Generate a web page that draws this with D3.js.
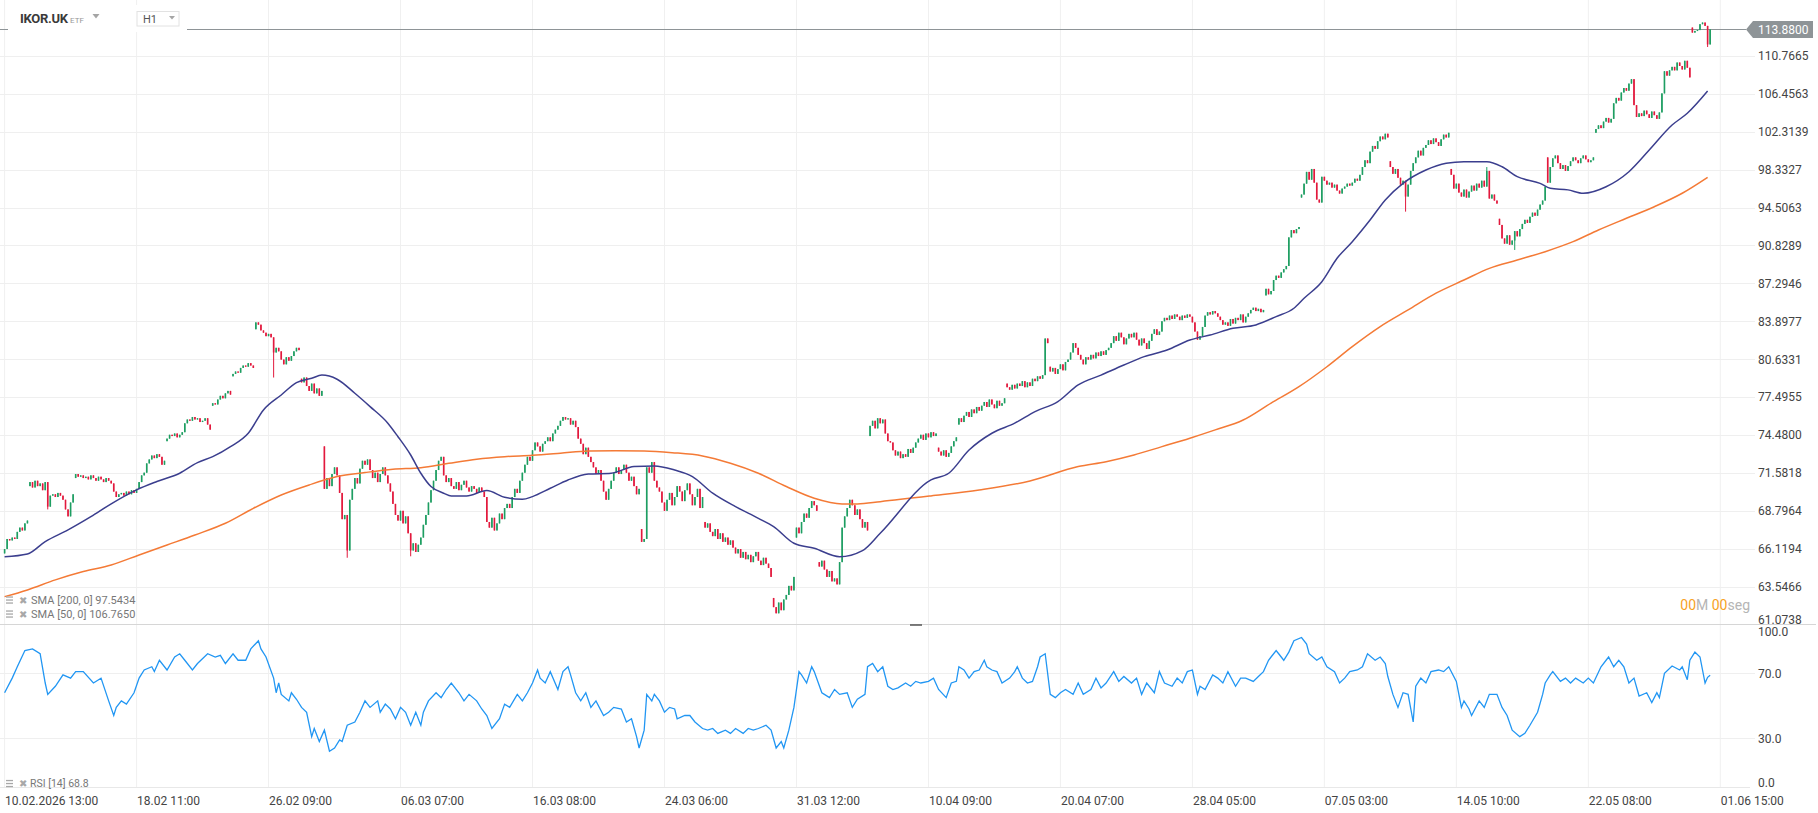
<!DOCTYPE html>
<html>
<head>
<meta charset="utf-8">
<script src="https://cdn.jsdelivr.net/npm/d3@7"></script>
<style>
  body { margin: 0; background: #fff; }
  svg { display: block; font-family: Roboto, "Noto Sans", sans-serif; }
</style>
</head>
<body>
<div id="chart"></div>
<script>
// hourly closes, one entry per bar (bar 0 = 10.02.2026 13:00)
const closes = [
  66.1, 66.8, 66.7, 66.9, 66.8, 67.3, 67.6, 67.4, 67.9, 68.1,
  70.9, 70.5, 71.0, 70.6, 70.8, 70.3, 70.9, 69.1, 69.9, 70.0, 69.8, 70.1, 69.9, 69.6, 68.9, 68.4, 69.4, 70.0,
  71.5, 71.3, 71.4, 71.2, 71.3, 71.1, 71.4, 71.2, 71.0, 71.3, 71.1, 70.9, 71.2, 71.0, 70.8, 70.2, 69.8, 70.0, 70.1, 69.9, 70.2, 70.0, 70.3, 70.1, 70.4, 70.9, 71.4, 71.6,
  72.3, 72.6, 72.9, 72.7, 73.0, 72.8, 72.2, 72.5, 74.2, 74.5, 74.4, 74.6, 74.3, 74.5, 74.7, 75.4, 75.7, 75.6, 75.9, 75.7, 75.8, 75.5, 75.6, 75.8, 75.3, 74.9,
  77.0, 76.9, 77.3, 77.6, 77.4, 77.8, 78.0, 77.7, 79.4, 79.6, 79.5, 79.9, 80.1, 80.0, 80.3, 80.1, 79.9, 83.8, 83.6, 83.1, 82.9, 82.6, 82.8, 82.5, 81.2, 81.6, 81.3, 80.6, 80.2, 80.8, 80.5, 80.9, 81.3, 81.6, 81.4,
  78.7, 79.1, 78.4, 78.0, 78.6, 77.8, 78.2, 77.6, 78.0, 70.4, 71.2, 70.6, 71.5, 72.0, 71.4, 70.1, 68.2, 68.5, 66.0, 69.6, 70.4, 71.2, 70.8, 71.9, 72.5, 72.2, 72.6,
  71.8, 71.2, 71.6, 70.9, 71.5, 72.0, 71.4, 70.8, 70.2, 69.3, 68.5, 68.1, 68.8, 67.9, 68.4, 67.2, 66.0, 66.5, 65.9, 66.4, 66.9, 67.8, 68.5, 69.4, 70.3, 71.0, 71.8, 72.5, 72.8,
  71.4, 70.9, 71.2, 70.6, 70.4, 70.9, 70.3, 70.7, 71.0, 70.5, 70.2, 70.6, 70.4, 70.1, 70.5, 70.2, 69.8, 68.0, 67.6, 68.3, 67.4, 67.9, 68.6, 68.2, 69.0, 69.3, 69.0, 69.8, 70.4, 70.1, 71.0, 71.6,
  72.2, 72.8, 72.5, 73.3, 73.9, 73.6, 73.2, 73.8, 74.0, 74.3, 74.0, 74.6, 74.9, 75.2, 75.6, 75.9, 75.7, 75.8, 75.3, 75.6, 75.1, 74.2, 73.8, 73.0, 73.5, 72.8, 72.4, 72.0, 71.5, 71.8, 71.0, 70.2, 69.6,
  70.4, 71.0, 71.6, 72.0, 71.5, 71.8, 72.2, 71.6, 71.0, 71.3, 70.6, 70.0, 70.4, 66.6, 66.8, 72.0, 71.6, 72.4, 71.0, 70.5, 70.2, 69.4, 68.8, 69.6, 70.1, 69.2, 69.8, 70.6, 70.2, 69.5, 70.3, 70.8, 70.0, 69.2, 69.8, 70.4, 69.0, 69.8,
  67.6, 67.9, 67.3, 67.0, 67.5, 66.8, 67.2, 66.6, 66.9, 66.4, 66.7, 66.2, 65.8, 66.1, 65.5, 65.9, 65.4, 65.7, 65.2, 65.6, 65.9, 65.3, 65.0, 65.5, 65.1, 64.8, 64.2, 62.2, 61.8, 62.5, 62.0, 62.7, 63.0, 63.6, 63.3, 64.2,
  67.6, 67.2, 68.0, 68.6, 68.3, 69.0, 69.5, 69.2, 68.8, 64.9, 65.3, 64.7, 64.2, 64.6, 63.9, 64.1, 63.7, 65.2, 67.6, 68.4, 69.0, 69.6, 69.2, 68.5, 68.9, 68.2, 67.6, 68.0, 67.4,
  75.2, 75.6, 75.0, 75.8, 75.4, 75.7, 74.6, 74.0, 73.9, 73.3, 72.9, 73.2, 72.7, 73.0, 72.8, 73.4, 73.1, 73.5, 73.9, 74.2, 74.5, 74.1, 74.6, 74.3, 74.7, 74.4, 74.6, 73.2, 72.9, 73.3, 72.8, 73.1, 73.6, 74.0, 74.3,
  75.8, 75.5, 76.0, 76.3, 75.9, 76.5, 76.2, 76.7, 76.4, 76.8, 77.1, 76.7, 77.3, 76.9, 76.6, 77.2, 76.8, 77.0, 77.4, 78.3, 78.1, 78.5, 78.2, 78.6, 78.4, 78.8, 78.3, 78.7, 78.4, 79.0, 78.8, 79.2, 79.0, 79.3, 82.4, 82.0,
  79.6, 79.9, 79.4, 79.8, 80.2, 79.7, 80.4, 80.6, 81.2, 82.0, 81.6, 81.0, 80.6, 80.2, 80.8, 80.6, 81.0, 80.7, 81.2, 80.9, 81.3, 81.0, 81.4, 81.6, 82.0, 82.6, 82.2, 82.9, 82.5, 81.9, 82.4, 82.8, 82.5, 82.9, 82.3, 81.8, 82.4, 82.0, 81.5, 82.2, 82.8, 83.2, 82.7, 83.0,
  83.9, 84.2, 84.0, 84.4, 84.1, 84.5, 84.3, 84.0, 84.4, 84.2, 84.5, 84.3, 83.8, 83.0, 82.3, 82.6, 83.4, 84.4, 84.7, 84.5, 84.8, 84.6, 84.3, 84.0, 83.6, 83.8, 83.5, 84.1, 83.7, 84.2, 84.0, 84.5, 83.8, 84.3, 84.6, 84.9, 85.1, 84.8, 85.0, 84.7, 84.9,
  86.8, 86.3, 86.6, 87.6, 88.0, 87.8, 88.3, 88.6, 88.9, 91.6, 92.3, 92.0, 92.4, 92.6, 95.8, 96.9, 98.1, 97.3, 98.4, 97.0, 95.3, 95.0, 97.6, 97.2, 96.8, 97.0, 96.5, 96.8, 96.2, 95.9, 96.4, 96.6, 96.9, 96.7, 97.0, 97.4, 97.2,
  97.8, 98.6, 99.3, 99.0, 100.2, 100.8, 100.5, 101.3, 101.8, 101.5, 102.1, 101.7, 98.6, 97.9, 98.4, 97.5, 96.8, 97.2, 95.6, 96.8, 98.2, 99.0, 99.6, 100.3, 99.8, 100.6, 100.9, 101.4, 101.0, 101.6, 101.2, 100.8, 101.5, 102.0, 101.7, 102.2,
  97.8, 96.4, 96.9, 96.0, 95.6, 96.3, 95.5, 96.1, 96.7, 96.2, 96.9, 96.5, 97.2, 96.6, 98.2, 95.4, 95.8, 95.2, 94.9, 92.8, 91.5, 91.0, 91.8, 90.9, 91.3, 92.2, 91.7, 92.4, 92.9, 93.3, 93.0, 93.6, 94.0, 93.7, 94.3, 94.8, 95.2, 96.6, 97.0, 98.6,
  99.5, 99.8, 99.0, 98.4, 98.8, 98.2, 98.7, 99.2, 99.6, 99.3, 99.0, 99.5, 99.8, 99.4, 99.1, 99.3, 99.6, 102.6, 103.0, 102.7, 103.4, 103.8, 103.3, 103.7, 105.4, 106.0, 105.7, 106.6, 107.1, 106.8, 107.6, 108.1, 105.2,
  103.9, 104.3, 104.0, 104.6, 104.2, 103.8, 104.5, 104.1, 103.7, 104.4, 106.5, 109.0, 108.5, 109.1, 109.5, 109.1, 110.0, 109.6, 109.2, 110.2, 109.4, 108.3, 113.5, 113.7, 113.8, 114.5, 114.7, 114.3, 112.1, 113.88
];

// bars that open away from the previous close: [bar, open]
const gapOpens = [
  [0, 65.8], [10, 70.6], [28, 71.2], [64, 74.0], [82, 76.8], [90, 79.2], [99, 83.2],
  [117, 79.0], [126, 73.6], [251, 67.5], [276, 68.0], [303, 62.8], [312, 66.9],
  [321, 65.2], [341, 74.4], [368, 73.5], [376, 75.3], [395, 78.6], [412, 80.0],
  [497, 86.2], [511, 95.5], [546, 99.2], [570, 98.4], [589, 93.4], [608, 99.6],
  [627, 102.2], [665, 114.1]
];

// long wicks: [bar, extreme price]
const spikes = [
  [17, 68.9], [106, 79.1], [135, 65.5], [160, 65.6], [552, 94.1],
  [584, 98.6], [595, 90.4], [671, 111.8]
];

// SMA(50): [bar, value]
const sma50 = [
  [0, 65.57], [9, 65.76], [16, 66.62], [25, 67.44], [34, 68.38], [42, 69.30], [52, 70.32],
  [60, 70.94], [69, 71.56], [76, 72.36], [82, 72.81], [89, 73.58], [96, 74.62], [102, 76.46],
  [109, 77.67], [115, 78.68], [121, 79.04], [125, 79.30], [131, 78.96], [138, 77.81],
  [144, 76.73], [151, 75.41], [155, 74.35], [160, 72.94], [164, 71.56], [168, 70.57],
  [173, 70.08], [176, 69.88], [182, 69.88], [190, 70.27], [197, 69.78], [204, 69.63],
  [208, 69.83], [215, 70.44], [222, 71.06], [230, 71.50], [239, 71.56], [248, 72.06],
  [256, 72.11], [264, 71.80], [271, 71.31], [279, 70.08], [288, 69.10], [297, 68.26],
  [303, 67.67], [311, 66.50], [319, 66.15], [329, 65.57], [338, 65.99], [345, 67.20],
  [365, 71.06], [372, 71.56], [380, 73.32], [389, 74.62], [398, 75.41], [406, 76.33],
  [415, 77.13], [423, 78.49], [432, 79.30], [441, 80.14], [449, 80.85], [458, 81.41],
  [467, 82.27], [475, 82.70], [484, 83.28], [493, 83.58], [501, 84.31], [508, 85.05],
  [512, 85.94], [519, 87.45], [525, 89.62], [531, 91.19], [538, 93.28], [544, 95.26],
  [551, 96.93], [560, 98.29], [568, 98.99], [575, 99.15], [584, 99.15], [590, 98.63],
  [596, 97.61], [605, 96.93], [609, 96.43], [616, 96.27], [622, 95.93], [631, 96.59],
  [640, 98.12], [648, 100.37], [657, 103.03], [663, 104.31], [671, 106.77]
];

// SMA(200): [bar, value]
const sma200 = [
  [0, 62.89], [9, 63.33], [20, 64.00], [31, 64.56], [42, 65.01], [53, 65.69], [64, 66.38],
  [75, 67.08], [87, 67.91], [98, 68.98], [109, 69.95], [120, 70.69], [131, 71.31],
  [142, 71.61], [153, 71.86], [164, 71.98], [175, 72.31], [186, 72.62], [197, 72.81],
  [208, 72.92], [219, 73.08], [230, 73.25], [241, 73.27], [252, 73.25], [263, 73.12],
  [275, 72.87], [286, 72.31], [297, 71.56], [308, 70.57], [319, 69.71], [330, 69.30],
  [336, 69.30], [345, 69.46], [365, 69.88], [384, 70.32], [404, 70.98], [423, 72.06],
  [434, 72.43], [445, 72.94], [456, 73.58], [467, 74.23], [477, 74.88], [488, 75.66],
  [499, 77.01], [510, 78.35], [521, 80.00], [531, 81.70], [542, 83.43], [553, 84.90],
  [564, 86.40], [575, 87.60], [585, 88.68], [596, 89.45], [607, 90.24], [618, 91.19],
  [628, 92.31], [639, 93.45], [650, 94.59], [661, 95.93], [671, 97.54]
];

// RSI(14): [bar, value]
const rsi14 = [
  [0,58],[3,67],[5,74],[8,84],[11,85],[14,82],[16,64],[17,57],[20,62],[23,69],[26,67],[28,71],
  [31,71],[35,64],[38,67],[41,53],[43,44],[44,49],[46,53],[48,51],[51,58],[53,67],[55,72],[58,74],
  [59,71],[61,78],[64,72],[67,80],[69,82],[71,78],[74,72],[76,76],[80,82],[83,80],[85,81],[87,76],
  [90,82],[92,78],[95,78],[97,85],[100,90],[101,85],[103,80],[106,67],[107,58],[108,64],[109,57],
  [112,53],[113,58],[115,54],[117,49],[119,46],[121,31],[122,36],[124,28],[126,35],[128,22],[130,24],
  [132,29],[133,28],[135,38],[138,40],[140,46],[142,53],[144,49],[147,53],[148,46],[150,51],[152,48],
  [154,42],[156,49],[158,46],[160,38],[162,46],[164,38],[165,46],[167,53],[170,58],[172,55],[174,60],
  [176,64],[179,58],[181,53],[183,57],[186,53],[188,48],[190,44],[192,36],[195,42],[197,51],[199,49],
  [202,57],[204,53],[206,58],[208,64],[210,72],[211,67],[213,64],[215,71],[218,60],[220,71],[222,74],
  [223,69],[225,58],[227,53],[229,58],[231,49],[233,53],[236,44],[238,46],[240,49],[243,48],[245,40],
  [247,42],[249,31],[250,24],[252,35],[253,57],[255,53],[256,57],[258,53],[260,46],[262,49],[264,48],
  [265,42],[268,44],[270,44],[272,40],[275,36],[277,35],[279,36],[281,33],[284,35],[286,33],[288,36],
  [291,33],[293,36],[295,35],[297,36],[300,38],[302,35],[304,24],[306,28],[307,24],[309,35],[311,49],
  [313,71],[314,69],[316,64],[318,74],[319,71],[322,58],[323,57],[325,55],[327,60],[329,57],[332,58],
  [334,49],[336,54],[339,57],[340,74],[342,76],[344,71],[346,74],[348,62],[350,60],[352,61],[355,64],
  [357,62],[359,65],[361,64],[364,65],[366,67],[368,60],[371,55],[373,64],[375,65],[376,74],[378,72],
  [380,67],[382,71],[384,72],[386,78],[387,74],[389,72],[391,71],[393,64],[396,67],[398,71],[399,74],
  [401,67],[403,64],[405,65],[407,74],[408,80],[410,82],[412,57],[414,55],[416,58],[418,60],[421,57],
  [423,64],[425,57],[428,60],[430,67],[432,61],[434,64],[437,71],[439,65],[441,68],[444,64],[446,67],
  [448,57],[450,64],[453,58],[455,71],[457,64],[460,62],[462,67],[464,64],[466,71],[468,72],[470,57],
  [471,62],[473,60],[476,69],[478,67],[480,64],[482,71],[485,62],[487,67],[489,67],[492,65],[494,68],
  [496,71],[498,78],[499,80],[501,84],[502,82],[504,78],[506,83],[508,90],[511,92],[513,88],[514,82],
  [517,78],[519,80],[521,74],[524,71],[526,64],[528,67],[530,71],[533,72],[535,74],[537,82],[540,78],
  [542,80],[544,76],[545,68],[547,57],[549,49],[551,58],[553,57],[555,40],[556,62],[558,67],[560,64],
  [562,71],[565,72],[567,71],[569,74],[572,65],[574,49],[575,53],[577,48],[578,44],[581,53],[583,49],
  [585,57],[588,57],[590,49],[592,44],[594,35],[597,31],[599,33],[601,38],[604,46],[606,57],[607,64],
  [609,69],[610,71],[613,65],[615,67],[617,64],[619,67],[622,64],[624,67],[626,64],[629,74],[631,78],
  [632,80],[634,74],[636,78],[638,74],[640,64],[642,67],[644,56],[647,58],[649,52],[651,58],[652,55],
  [654,70],[657,74.5],[660,72],[661,74],[663,66],[664,78],[666,83],[668,80],[670,64],[671,67.5],[672,68.8]
];

const priceTicks = [110.7665, 106.4563, 102.3139, 98.3327, 94.5063, 90.8289, 87.2946, 83.8977,
  80.6331, 77.4955, 74.4800, 71.5818, 68.7964, 66.1194, 63.5466, 61.0738];
const rsiTicks = [100, 70, 30, 0];
const timeLabels = ["10.02.2026 13:00", "18.02 11:00", "26.02 09:00", "06.03 07:00", "16.03 08:00",
  "24.03 06:00", "31.03 12:00", "10.04 09:00", "20.04 07:00", "28.04 05:00", "07.05 03:00",
  "14.05 10:00", "22.05 08:00", "01.06 15:00"];
const lastPrice = 113.88;
const barsPerLabel = 52;

const W = 1818, H = 813;
const svg = d3.select("#chart").append("svg").attr("width", W).attr("height", H);

const x = d3.scaleLinear().domain([0, 676]).range([4.6, 1720.3]);
const y = d3.scaleLog().domain([61.0738, 113.88]).range([624.6, 29.4]);
const yr = d3.scaleLinear().domain([0, 100]).range([787, 624.5]);

const gapMap = new Map(gapOpens);
const spikeMap = new Map(spikes);
const bars = closes.map((c, i) => {
  const o = gapMap.has(i) ? gapMap.get(i) : closes[i - 1];
  let hi = Math.max(o, c), lo = Math.min(o, c);
  if (spikeMap.has(i)) {
    hi = Math.max(hi, spikeMap.get(i));
    lo = Math.min(lo, spikeMap.get(i));
  }
  return { i, o, c, hi, lo };
});

// grid
const grid = svg.append("g");
const timeTicks = timeLabels.map((t, k) => k * barsPerLabel);
grid.selectAll(".vgrid").data(timeTicks).join("line")
  .attr("x1", d => x(d)).attr("x2", d => x(d))
  .attr("y1", 0).attr("y2", 787)
  .attr("stroke", "#f0f0f0");
grid.selectAll(".hgrid").data(priceTicks.slice(0, -1)).join("line")
  .attr("x1", 0).attr("x2", 1755)
  .attr("y1", d => Math.round(y(d)) + 0.5).attr("y2", d => Math.round(y(d)) + 0.5)
  .attr("stroke", "#efefef");
grid.selectAll(".rgrid").data([70, 30]).join("line")
  .attr("x1", 0).attr("x2", 1755)
  .attr("y1", d => Math.round(yr(d)) + 0.5).attr("y2", d => Math.round(yr(d)) + 0.5)
  .attr("stroke", "#efefef");
grid.append("line").attr("x1", 0).attr("x2", 1750).attr("y1", 787.5).attr("y2", 787.5).attr("stroke", "#e8e8e8");
grid.append("line").attr("x1", 0).attr("x2", 1816).attr("y1", 624.5).attr("y2", 624.5).attr("stroke", "#d6d6d6");
grid.append("line").attr("x1", 910).attr("x2", 922).attr("y1", 625).attr("y2", 625).attr("stroke", "#555").attr("stroke-width", 1.5);

// last price line
svg.append("line").attr("x1", 0).attr("x2", 1746)
  .attr("y1", Math.round(y(lastPrice)) + 0.5).attr("y2", Math.round(y(lastPrice)) + 0.5)
  .attr("stroke", "#8e9497");

// candles
const green = "#1e9e62", red = "#e2193d";
const candles = svg.append("g");
candles.selectAll("line").data(bars).join("line")
  .attr("x1", d => x(d.i)).attr("x2", d => x(d.i))
  .attr("y1", d => y(d.hi)).attr("y2", d => y(d.lo))
  .attr("stroke", d => d.c >= d.o ? green : red)
  .attr("stroke-width", 1);
candles.selectAll("rect").data(bars).join("rect")
  .attr("x", d => x(d.i) - 0.8).attr("width", 1.6)
  .attr("y", d => y(Math.max(d.o, d.c)))
  .attr("height", d => Math.max(1, y(Math.min(d.o, d.c)) - y(Math.max(d.o, d.c))))
  .attr("fill", d => d.c >= d.o ? green : red);

// moving averages
const maLine = d3.line().x(d => x(d[0])).y(d => y(d[1])).curve(d3.curveMonotoneX);
svg.append("path").datum(sma200).attr("d", maLine)
  .attr("fill", "none").attr("stroke", "#f47a36").attr("stroke-width", 1.5);
svg.append("path").datum(sma50).attr("d", maLine)
  .attr("fill", "none").attr("stroke", "#3b3e8e").attr("stroke-width", 1.5);

// RSI
const rsiLine = d3.line().x(d => x(d[0])).y(d => yr(d[1]));
svg.append("path").datum(rsi14).attr("d", rsiLine)
  .attr("fill", "none").attr("stroke", "#2196f3").attr("stroke-width", 1.3);

// axes
const yAxis = svg.append("g").attr("transform", "translate(1758,0)")
  .call(d3.axisRight(y).tickValues(priceTicks).tickFormat(d3.format(".4f")).tickSize(0).tickPadding(0));
yAxis.select(".domain").remove();
yAxis.selectAll("text").attr("font-size", 12).attr("fill", "#444").attr("font-family", "Roboto")
  .attr("dy", d => d === 61.0738 ? "-0.1em" : "0.32em");

const rAxis = svg.append("g").attr("transform", "translate(1758,0)")
  .call(d3.axisRight(yr).tickValues(rsiTicks).tickFormat(d3.format(".1f")).tickSize(0).tickPadding(0));
rAxis.select(".domain").remove();
rAxis.selectAll("text").attr("font-size", 12).attr("fill", "#444").attr("font-family", "Roboto")
  .attr("dy", d => d === 100 ? "0.9em" : d === 0 ? "-0.05em" : "0.32em");

const xAxis = svg.append("g").attr("transform", "translate(0,787)")
  .call(d3.axisBottom(x).tickValues(timeTicks).tickFormat((d, k) => timeLabels[k]).tickSize(0).tickPadding(9));
xAxis.select(".domain").remove();
xAxis.selectAll("text").attr("font-size", 12).attr("fill", "#444").attr("font-family", "Roboto")
  .attr("text-anchor", "start");

// last price tag
const ty = y(lastPrice);
svg.append("path")
  .attr("d", `M1746,${ty} L1753,${ty - 8.5} L1813,${ty - 8.5} L1813,${ty + 8.5} L1753,${ty + 8.5} Z`)
  .attr("fill", "#8e9497");
svg.append("text").attr("x", 1758).attr("y", ty).attr("dy", "0.35em")
  .attr("font-size", 12).attr("fill", "#fff").text(d3.format(".4f")(lastPrice));

// header
const head = svg.append("g");
head.append("rect").attr("x", 8).attr("y", 5).attr("width", 179).attr("height", 27).attr("fill", "#fff");
head.append("text").attr("x", 20).attr("y", 23).attr("font-size", 13).attr("font-weight", 700)
  .attr("fill", "#3a3a3a").attr("letter-spacing", "-0.3").text("IKOR.UK");
head.append("text").attr("x", 70).attr("y", 23).attr("font-size", 8).attr("fill", "#999").text("ETF");
head.append("path").attr("d", "M92.5,14 L99.5,14 L96,18.5 Z").attr("fill", "#a5a5a5");
head.append("rect").attr("x", 137).attr("y", 11.5).attr("width", 42).attr("height", 14.5)
  .attr("fill", "#fff").attr("stroke", "#e2e2e2");
head.append("text").attr("x", 143).attr("y", 23).attr("font-size", 11).attr("fill", "#555").text("H1");
head.append("path").attr("d", "M169,16 L175,16 L172,19.5 Z").attr("fill", "#a5a5a5");

// legends
function legendIcon(g, cy) {
  [-3, 0, 3].forEach(o => g.append("rect").attr("x", 6).attr("y", cy + o - 0.6).attr("width", 7).attr("height", 1.3).attr("fill", "#a8a8a8"));
  g.append("text").attr("x", 19).attr("y", cy).attr("dy", "0.35em").attr("font-size", 10)
    .attr("fill", "#a8a8a8").attr("font-family", "DejaVu Sans").text("\u2716");
}
const leg = svg.append("g");
[["SMA [200, 0] 97.5434", 600], ["SMA [50, 0] 106.7650", 614]].forEach(([t, cy]) => {
  legendIcon(leg, cy);
  leg.append("text").attr("x", 31).attr("y", cy).attr("dy", "0.35em").attr("font-size", 11).attr("fill", "#777").text(t);
});
legendIcon(leg, 783.5);
leg.append("text").attr("x", 30).attr("y", 783.5).attr("dy", "0.35em").attr("font-size", 10.5).attr("fill", "#777").text("RSI [14] 68.8");

// timer
const timer = svg.append("text").attr("x", 1750).attr("y", 605).attr("dy", "0.35em")
  .attr("text-anchor", "end").attr("font-size", 14);
timer.append("tspan").attr("fill", "#f7a21e").text("00");
timer.append("tspan").attr("fill", "#b5b5b5").text("M ");
timer.append("tspan").attr("fill", "#f7a21e").text("00");
timer.append("tspan").attr("fill", "#b5b5b5").text("seg");
</script>
</body>
</html>
